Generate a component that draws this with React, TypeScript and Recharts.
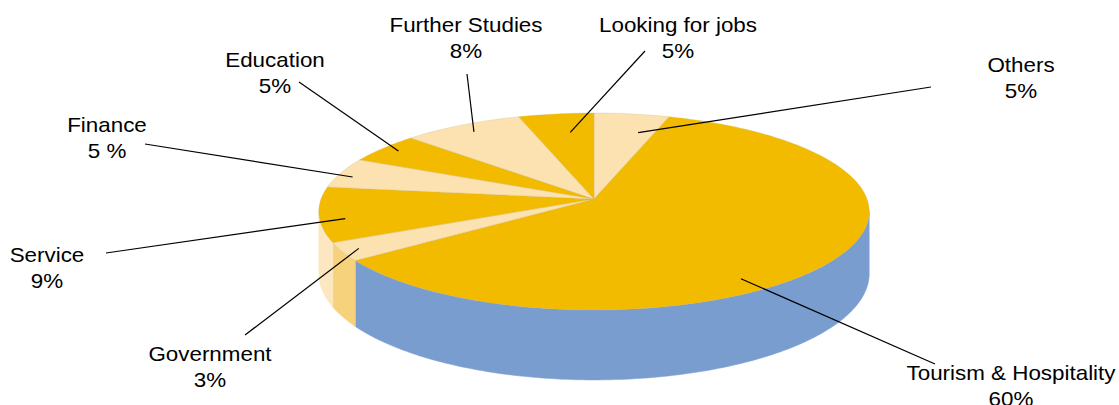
import { Cell, Pie, PieChart } from "recharts";

const categories = [
  "Others",
  "Tourism & Hospitality",
  "Government",
  "Service",
  "Finance",
  "Education",
  "Further Studies",
  "Looking for jobs"
];
const shares = [5, 60, 3, 9, 5, 5, 8, 5];
const shareLabels = ["5%", "60%", "3%", "9%", "5 %", "5%", "8%", "5%"];

const GOLD = "#F3BB00";
const CREAM = "#FCE2B1";
const topColors = [CREAM, GOLD, CREAM, GOLD, CREAM, GOLD, CREAM, GOLD];
const sideColors = ["#FCE7C0", "#7A9DD0", "#F7D27C", "#FCE7C0", "#FCE7C0", "#F7D27C", "#FCE7C0", "#F7D27C"];

// leader start: angle shift (deg, clockwise) + radius fraction; text centre/baseline and leader end relative to pie centre
const labelLayout = [
  { shift: 4.3, r: 0.77, tx: 427, ty: -127, ex: 337, ey: -112 },
  { shift: 20.8, r: 0.89, tx: 417, ty: 181, ex: 341, ey: 165 },
  { shift: 0, r: 0.94, tx: -384, ty: 162, ex: -349, ey: 136 },
  { shift: -3.5, r: 0.91, tx: -547, ty: 63, ex: -488, ey: 54 },
  { shift: -1.8, r: 0.94, tx: -487, ty: -67, ex: -449, ey: -55 },
  { shift: 0.5, r: 0.93, tx: -319, ty: -132, ex: -295, ey: -117 },
  { shift: 0, r: 0.9, tx: -128, ty: -167, ex: -127, ey: -125 },
  { shift: 1.8, r: 0.76, tx: 84, ty: -167, ex: 51, ey: -148 }
];

const data = categories.map((name, i) => ({ name, value: shares[i] }));

const TILT = 0.355;
const PERSP = 0.127;
const DEPTH = 0.2235;
const RAD = Math.PI / 180;

function project(cx: number, cy: number, R: number, angle: number, frac = 1): [number, number] {
  const X = frac * Math.cos(angle * RAD);
  const Z = -frac * Math.sin(angle * RAD);
  const f = 1 / (1 - PERSP * Z);
  return [cx + R * X * f, cy + R * TILT * Z * f];
}

function depthAt(R: number, angle: number) {
  const Z = -Math.sin(angle * RAD);
  return (R * DEPTH) / (1 - PERSP * Z);
}

function arc(cx: number, cy: number, R: number, a0: number, a1: number) {
  const n = Math.max(2, Math.ceil(Math.abs(a1 - a0)));
  const pts: [number, number][] = [];
  for (let i = 0; i <= n; i++) pts.push(project(cx, cy, R, a0 + ((a1 - a0) * i) / n));
  return pts;
}

const fmt = (p: [number, number]) => `${p[0].toFixed(2)},${p[1].toFixed(2)}`;

function TopFace(props: any) {
  const { cx, cy, outerRadius, startAngle, endAngle, fill } = props;
  const pts = arc(cx, cy, outerRadius, startAngle, endAngle);
  const d = `M${cx},${cy} L${pts.map(fmt).join(" L")} Z`;
  return <path d={d} fill={fill} stroke="#C8B46E" strokeWidth={0.5} strokeOpacity={0.6} />;
}

function SideFace(props: any) {
  const { cx, cy, outerRadius, startAngle, endAngle, fill } = props;
  const edge = Math.asin(PERSP) / RAD;
  const lo = Math.max(Math.min(startAngle, endAngle), -180 + edge);
  const hi = Math.min(Math.max(startAngle, endAngle), -edge);
  if (lo >= hi) return <g />;
  const top = arc(cx, cy, outerRadius, hi, lo);
  const n = top.length - 1;
  const bottom = top
    .map((p, i) => {
      const a = hi + ((lo - hi) * i) / n;
      return [p[0], p[1] + depthAt(outerRadius, a)] as [number, number];
    })
    .reverse();
  const d = `M${top.map(fmt).join(" L")} L${bottom.map(fmt).join(" L")} Z`;
  return <path d={d} fill={fill} stroke={fill} strokeWidth={0.5} />;
}

function renderLabel(props: any) {
  const { cx, cy, midAngle, outerRadius, index } = props;
  const L = labelLayout[index];
  const [sx, sy] = project(cx, cy, outerRadius, midAngle - L.shift, L.r);
  return (
    <g>
      <line x1={sx} y1={sy} x2={cx + L.ex} y2={cy + L.ey} stroke="#000" strokeWidth={1.2} />
      <text
        transform={`translate(${cx + L.tx} ${cy + L.ty}) scale(1.12 1)`}
        x={0}
        y={0}
        textAnchor="middle"
        fontFamily="'Liberation Sans', Arial, sans-serif"
        fontSize={20}
        fill="#000"
      >
        <tspan x={0} dy={0}>{categories[index]}</tspan>
        <tspan x={0} dy={26}>{shareLabels[index]}</tspan>
      </text>
    </g>
  );
}

export default function App() {
  return (
    <div style={{ position: "absolute", left: 0, top: 0, width: 1119, height: 405, background: "#fff" }}>
      <PieChart width={1119} height={405} margin={{ top: 0, right: 0, bottom: 0, left: 0 }}>
        <Pie
          data={data}
          dataKey="value"
          nameKey="name"
          cx={594}
          cy={199}
          outerRadius={273}
          startAngle={90}
          endAngle={-270}
          shape={SideFace}
          isAnimationActive={false}
        >
          {data.map((d, i) => (
            <Cell key={d.name} fill={sideColors[i]} />
          ))}
        </Pie>
        <Pie
          data={data}
          dataKey="value"
          nameKey="name"
          cx={594}
          cy={199}
          outerRadius={273}
          startAngle={90}
          endAngle={-270}
          shape={TopFace}
          label={renderLabel}
          labelLine={false}
          isAnimationActive={false}
        >
          {data.map((d, i) => (
            <Cell key={d.name} fill={topColors[i]} />
          ))}
        </Pie>
      </PieChart>
    </div>
  );
}
